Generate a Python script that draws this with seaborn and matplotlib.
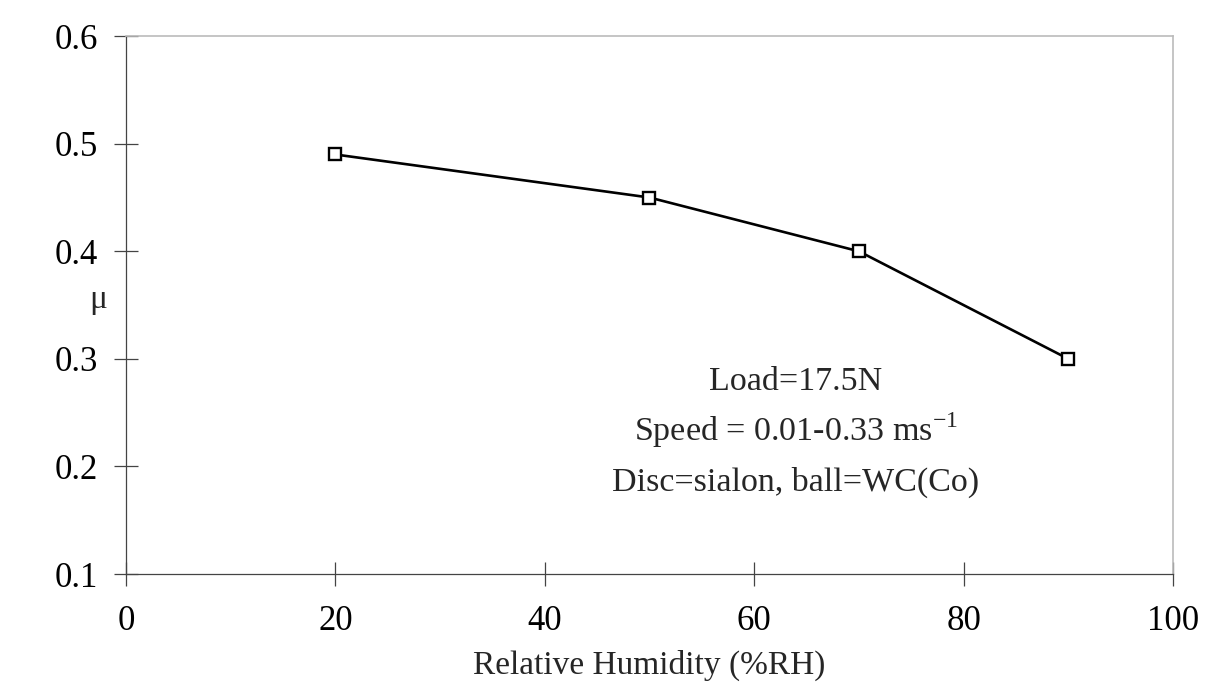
import matplotlib
matplotlib.use("Agg")
import matplotlib.pyplot as plt
import seaborn as sns
import pandas as pd

# Friction coefficient vs relative humidity
humidity = [20, 50, 70, 90]
mu = [0.49, 0.45, 0.40, 0.30]
x_ticks = [0, 20, 40, 60, 80, 100]
y_ticks = [0.1, 0.2, 0.3, 0.4, 0.5, 0.6]
x_label = "Relative Humidity (%RH)"
y_label = "μ"
notes = ["Load=17.5N",
         r"Speed = 0.01-0.33 ms$^{\mathregular{-1}}$",
         "Disc=sialon, ball=WC(Co)"]

sns.set_theme(style="white")
plt.rcParams["font.family"] = ["Liberation Serif", "DejaVu Serif"]
plt.rcParams["mathtext.fontset"] = "custom"
plt.rcParams["mathtext.rm"] = "Liberation Serif"

df = pd.DataFrame({"rh": humidity, "mu": mu})

fig = plt.figure(figsize=(12.08, 6.94), dpi=100)
ax = fig.add_axes([0.1043, 0.1729, 0.8667, 0.775])

sns.lineplot(data=df, x="rh", y="mu", ax=ax, color="black", linewidth=1.9,
             marker="s", markersize=9, markerfacecolor="white",
             markeredgecolor="black", markeredgewidth=1.7)

ax.set_xlim(0, 100)
ax.set_ylim(0.1, 0.6)
ax.set_xticks(x_ticks)
ax.set_yticks(y_ticks)
ax.set_xticklabels([f"{v}" for v in x_ticks])
ax.set_yticklabels([f"{v:.1f}" for v in y_ticks])
ax.tick_params(axis="both", direction="inout", length=17, width=0.9,
               color="#444444", labelsize=25, labelcolor="black",
               left=True, bottom=True)
ax.tick_params(axis="x", pad=14)
ax.tick_params(axis="y", pad=12)

for side in ["left", "bottom"]:
    ax.spines[side].set_color("#444444")
    ax.spines[side].set_linewidth(0.9)
for side in ["top", "right"]:
    ax.spines[side].set_color("#bbbbbb")
    ax.spines[side].set_linewidth(1.2)

ax.set_xlabel(x_label, fontsize=24, labelpad=8)
ax.set_ylabel(y_label, fontsize=24, rotation=0, va="center", ha="center")
ax.yaxis.set_label_coords(-0.027, 0.51)

note_y = [0.271, 0.224, 0.177]
for y, line in zip(note_y, notes):
    ax.text(64.0, y, line, fontsize=24.5, ha="center", va="baseline")

fig.savefig("out.png", dpi=100, facecolor="white")
